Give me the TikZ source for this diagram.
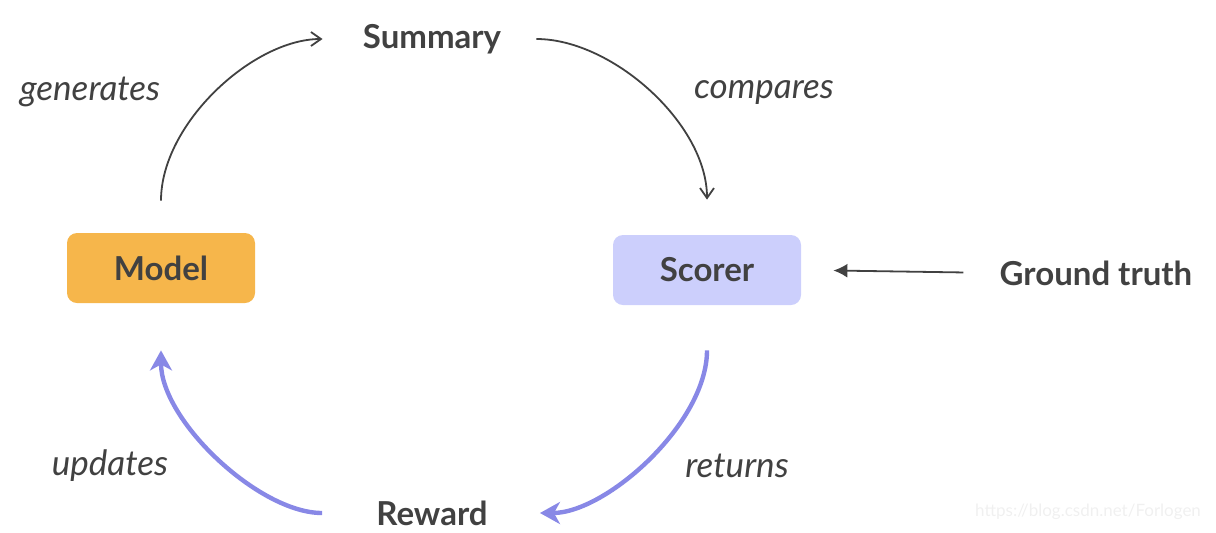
\documentclass[tikz,border=0pt]{standalone}
\usepackage{fontspec}
\setmainfont{Lato}
\usepackage{tikz}
\usetikzlibrary{calc,shapes,arrows.meta}

\definecolor{txt}{HTML}{414141}
\definecolor{modelfill}{HTML}{F6B64B}
\definecolor{scorerfill}{HTML}{CCCFFC}
\definecolor{loop}{HTML}{8888E6}

\tikzset{
    box/.style={rounded corners=5pt, minimum width=94pt, minimum height=35pt,
        font=\fontsize{16.5}{19}\selectfont\bfseries, text=txt},
    word/.style={inner sep=0pt, font=\fontsize{16.5}{19}\selectfont\bfseries, text=txt},
    verb/.style={inner sep=0pt, font=\fontsize{17.5}{20}\selectfont\itshape, text=txt},
    thin arrow/.style={-{Straight Barb[length=5pt,width=7pt]}, draw=txt, line width=0.9pt},
    thick arrow/.style={-{Stealth[length=10pt,width=11pt,inset=3pt]}, draw=loop, line width=2.2pt}
}

\begin{document}
\begin{tikzpicture}[x=0.5pt,y=-0.5pt]
        \useasboundingbox (0,0) rectangle (1216,532);
        \node[box, fill=modelfill] (model) at (161,268) {Model};
        \node[box, fill=scorerfill] (scorer) at (707,270) {Scorer};
        \node[word] (summary) at (432,39) {Summary};
        \node[word] (reward) at (432,513) {Reward};
        \node[word] (truth) at (1096,273) {Ground truth};
        \node[verb] (gen) at (90,92) {generates};
        \node[verb] (cmp) at (764,92) {compares};
        \node[verb] (upd) at (110,466) {updates};
        \node[verb] (ret) at (737,466) {returns};
        % the loop
        \draw[thin arrow, shorten <=16pt, shorten >=20pt]
            (model.north) to[out=90,in=180] (summary.west);
        \draw[thin arrow, shorten <=17.5pt, shorten >=17.5pt]
            (summary.east) to[out=0,in=90] (scorer.north);
        \draw[thick arrow, shorten <=22.5pt, shorten >=26pt]
            (scorer.south) to[out=-90,in=0] (reward.east);
        \draw[thick arrow, shorten <=27pt, shorten >=23.5pt]
            (reward.west) to[out=180,in=-90] (model.south);
        \draw[-{Latex[length=7pt,width=7pt]}, draw=txt, line width=0.9pt,
            shorten <=18pt, shorten >=16pt] (truth.west) -- (scorer.east);
        \node[font=\fontsize{8.5}{10}\selectfont, text=black!6, anchor=east] (url)
            at (1208,512) {https://blog.csdn.net/Forlogen};
    \end{tikzpicture}
\end{document}
